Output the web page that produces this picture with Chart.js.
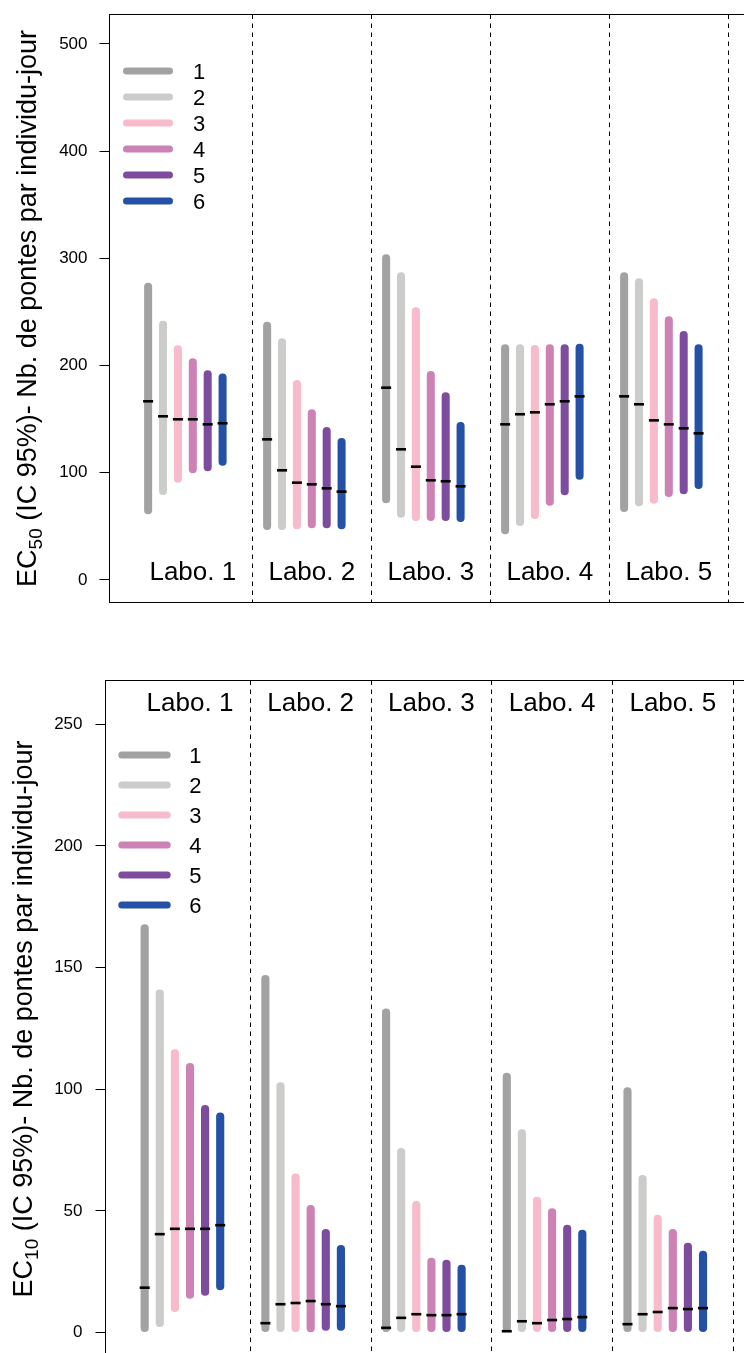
<!DOCTYPE html>
<html>
<head>
<meta charset="utf-8">
<script src="https://cdn.jsdelivr.net/npm/chart.js@4/dist/chart.umd.min.js"></script>
<style>
  html, body { margin: 0; padding: 0; background: #fff; width: 744px; height: 1353px; overflow: hidden; }
  #c1 { position: absolute; left: 0; top: 0; }
  #c2 { position: absolute; left: 0; top: 640px; }
</style>
</head>
<body>
<canvas id="c1" width="880" height="630"></canvas>
<canvas id="c2" width="890" height="740"></canvas>
<script>
// ---------- data ----------
const labos = ['Labo. 1', 'Labo. 2', 'Labo. 3', 'Labo. 4', 'Labo. 5'];
const seriesLabels = ['1', '2', '3', '4', '5', '6'];

// EC50: [series][labo]
const ec50Low = [
  [61.3, 46.6, 71.5, 42.6, 63.4],
  [79.3, 46.6, 58.1, 50.4, 68.7],
  [90.8, 47.3, 55.0, 56.9, 71.2],
  [99.5, 48.2, 55.0, 69.3, 77.4],
  [101.4, 48.2, 55.0, 79.0, 79.9],
  [106.6, 47.3, 54.1, 93.6, 84.9]
];
const ec50High = [
  [277.3, 241.0, 303.8, 219.8, 287.0],
  [241.9, 225.4, 287.0, 219.8, 281.4],
  [218.9, 186.6, 254.4, 219.3, 262.8],
  [206.8, 159.2, 195.0, 219.8, 246.0],
  [195.6, 142.7, 175.1, 219.8, 232.3],
  [192.5, 132.5, 147.4, 220.4, 219.8]
];
const ec50Median = [
  [166.7, 131.2, 179.4, 145.2, 171.3],
  [152.7, 102.3, 121.9, 154.6, 163.9],
  [149.9, 90.8, 105.7, 156.4, 148.9],
  [149.9, 89.2, 93.0, 163.9, 145.2],
  [145.2, 85.5, 92.1, 166.7, 141.5],
  [146.2, 82.4, 87.4, 171.3, 136.8]
];

// EC10: [series][labo]
const ec10Low = [
  [0, 0, 0, 0, 0],
  [2.2, 0, 0, 0, 0],
  [8.4, 0, 0, 0, 0],
  [13.9, 0.1, 0, 0, 0],
  [15.1, 0.7, 0, 0, 0],
  [17.3, 0.7, 0, 0, 0]
];
const ec10High = [
  [167.8, 146.9, 133.2, 106.8, 100.8],
  [141.0, 102.8, 75.8, 83.5, 64.7],
  [116.4, 65.3, 54.0, 55.8, 48.4],
  [110.8, 52.4, 30.7, 51.1, 42.5],
  [93.5, 42.5, 29.9, 44.3, 36.9],
  [90.4, 35.9, 27.8, 42.2, 33.6]
];
const ec10Median = [
  [18.4, 3.8, 1.9, 0.5, 3.4],
  [40.4, 11.6, 6.0, 4.6, 7.5],
  [42.6, 12.1, 7.5, 3.8, 8.4],
  [42.6, 12.9, 7.1, 5.1, 10.0],
  [42.6, 11.6, 7.1, 5.5, 9.6],
  [44.1, 10.8, 7.5, 6.3, 10.0]
];

const ec50Ticks = [0, 100, 200, 300, 400, 500];
const ec10Ticks = [0, 50, 100, 150, 200, 250];

// ---------- styles ----------
const seriesColors = ['#A2A2A2', '#CCCCCB', '#F7BBCB', '#CC82B5', '#7E4C9E', '#2450A5'];
const FONT = "'Liberation Sans', Arial, Helvetica, sans-serif";

const decor = {
  id: 'decor',
  afterDatasetsDraw(chart, args, o) {
    const ctx = chart.ctx, y = chart.scales.y;
    ctx.save();
    ctx.strokeStyle = '#000';
    ctx.lineWidth = o.medianWidth;
    ctx.lineCap = 'butt';
    chart.data.datasets.forEach((ds, i) => {
      if (!ds.medians) return;
      const meta = chart.getDatasetMeta(i);
      meta.data.forEach((el, j) => {
        const py = y.getPixelForValue(ds.medians[j]);
        ctx.beginPath();
        ctx.moveTo(el.x - o.medianHalf, py);
        ctx.lineTo(el.x + o.medianHalf, py);
        ctx.stroke();
      });
    });
    ctx.restore();
  },
  afterDraw(chart, args, o) {
    const ctx = chart.ctx, ca = chart.chartArea, x = chart.scales.x;
    ctx.save();
    // plot box
    ctx.strokeStyle = '#000';
    ctx.lineWidth = 1;
    ctx.strokeRect(ca.left, ca.top, ca.right - ca.left, ca.bottom - ca.top);
    // labo labels
    ctx.fillStyle = '#000';
    ctx.font = o.laboSize + 'px ' + FONT;
    ctx.textAlign = 'center';
    ctx.textBaseline = 'alphabetic';
    labos.forEach((lab, j) => {
      ctx.fillText(lab, x.getPixelForValue(j + 1), o.laboBaseline);
    });
    // legend
    ctx.lineCap = 'round';
    ctx.lineWidth = o.legendLineWidth;
    ctx.font = o.legendSize + 'px ' + FONT;
    ctx.textAlign = 'left';
    seriesLabels.forEach((lab, s) => {
      const ry = o.legendY0 + s * o.legendDy;
      ctx.strokeStyle = seriesColors[s];
      ctx.beginPath();
      ctx.moveTo(o.legendX1, ry);
      ctx.lineTo(o.legendX2, ry);
      ctx.stroke();
      ctx.fillStyle = '#000';
      ctx.fillText(lab, o.legendTextX, ry + o.legendTextDy);
    });
    // y title with subscript
    ctx.translate(o.titleX, (ca.top + ca.bottom) / 2);
    ctx.rotate(-Math.PI / 2);
    const parts = o.title;
    const widths = parts.map(p => { ctx.font = p.size + 'px ' + FONT; return ctx.measureText(p.t).width; });
    const total = widths.reduce((a, b) => a + b, 0);
    let cx = -total / 2;
    ctx.textAlign = 'left';
    ctx.fillStyle = '#000';
    parts.forEach((p, k) => {
      ctx.font = p.size + 'px ' + FONT;
      ctx.fillText(p.t, cx, p.dy || 0);
      cx += widths[k];
    });
    ctx.restore();
  }
};

function makeChart(id, low, high, med, ticks, cfg) {
  const common = {
    borderWidth: 0,
    borderSkipped: false,
    borderRadius: { topLeft: 4, topRight: 4, bottomLeft: 4, bottomRight: 4 },
    categoryPercentage: 0.876,
    barPercentage: 0.54
  };
  const datasets = seriesLabels.map((lab, s) => Object.assign({
    label: lab,
    data: labos.map((_, j) => ({ x: j + 1, y: [low[s][j], high[s][j]] })),
    medians: med[s],
    backgroundColor: seriesColors[s]
  }, common));
  // empty slot that keeps the six bars left of each group's centre, as in the reference
  datasets.push(Object.assign({ label: '', data: [] }, common));

  return new Chart(document.getElementById(id), {
    type: 'bar',
    data: { datasets },
    options: {
      responsive: false,
      animation: false,
      devicePixelRatio: 1,
      layout: { padding: cfg.padding },
      plugins: {
        legend: { display: false },
        tooltip: { enabled: false },
        decor: cfg.decor
      },
      scales: {
        x: {
          type: 'linear',
          min: 0.3,
          max: 6.7,
          offset: false,
          afterBuildTicks: sc => { sc.ticks = labos.map((_, j) => ({ value: j + 1.5 })); },
          ticks: { display: false },
          grid: { offset: false, drawTicks: false, color: '#000', lineWidth: 1 },
          border: { display: false, dash: [4.5, 4.5] }
        },
        y: {
          min: cfg.yMin,
          max: cfg.yMax,
          afterBuildTicks: sc => { sc.ticks = ticks.map(v => ({ value: v })); },
          afterFit: sc => {
            sc.width = cfg.axisLeft;
            sc.paddingTop = 0;
            sc.paddingBottom = 0;
          },
          ticks: { color: '#000', font: { family: FONT, size: 17 }, padding: cfg.tickPad },
          grid: { drawOnChartArea: false, drawTicks: true, tickLength: 10, color: '#000', lineWidth: 1 },
          border: { display: false }
        }
      }
    },
    plugins: [decor]
  });
}

makeChart('c1', ec50Low, ec50High, ec50Median, ec50Ticks, {
  padding: { left: 0, top: 14.5, right: 8.9, bottom: 27.5 },
  axisLeft: 109.5,
  tickPad: 12,
  yMin: -21.0,
  yMax: 527.5,
  decor: {
    medianWidth: 2.6, medianHalf: 5,
    laboSize: 26, laboBaseline: 579.5,
    legendLineWidth: 7, legendX1: 126.5, legendX2: 169.5, legendTextX: 193,
    legendY0: 71, legendDy: 26, legendSize: 22, legendTextDy: 8,
    titleX: 36,
    title: [
      { t: 'EC', size: 27 },
      { t: '50', size: 19, dy: 6 },
      { t: ' (IC 95%)- Nb. de pontes par individu-jour', size: 27 }
    ]
  }
});

makeChart('c2', ec10Low, ec10High, ec10Median, ec10Ticks, {
  padding: { left: 0, top: 40.5, right: 12, bottom: 22.5 },
  axisLeft: 105.5,
  tickPad: 13,
  yMin: -10.3,
  yMax: 268.0,
  decor: {
    medianWidth: 2.6, medianHalf: 5,
    laboSize: 26, laboBaseline: 70.7,
    legendLineWidth: 7, legendX1: 121.8, legendX2: 167.2, legendTextX: 189.3,
    legendY0: 115, legendDy: 30, legendSize: 22, legendTextDy: 8,
    titleX: 31.7,
    title: [
      { t: 'EC', size: 27 },
      { t: '10', size: 19, dy: 6 },
      { t: ' (IC 95%)- Nb. de pontes par individu-jour', size: 27 }
    ]
  }
});
</script>
</body>
</html>
